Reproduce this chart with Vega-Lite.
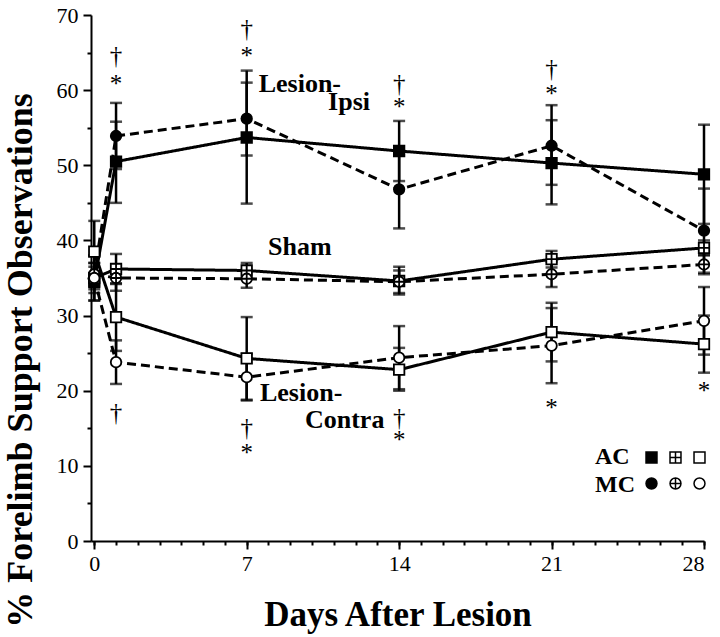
{
  "$schema": "https://vega.github.io/schema/vega-lite/v6.json",
  "width": 613,
  "height": 526,
  "autosize": "none",
  "padding": {"left": 91, "top": 15, "right": 16, "bottom": 96},
  "background": "white",
  "config": {
    "view": {"stroke": null},
    "font": "Liberation Serif",
    "axis": {"domainColor": "black", "tickColor": "black", "labelColor": "black", "titleColor": "black", "grid": false, "domainWidth": 2, "tickWidth": 2, "labelFont": "Liberation Serif", "titleFont": "Liberation Serif"}
  },
  "datasets": {
    "obs": [
      {"day": 0, "group": "AC", "series": "AC-Ipsi", "pct": 34.5, "lo": 32.0, "hi": 37.0},
      {"day": 1, "group": "AC", "series": "AC-Ipsi", "pct": 50.5, "lo": 45.0, "hi": 55.8},
      {"day": 7, "group": "AC", "series": "AC-Ipsi", "pct": 53.7, "lo": 44.9, "hi": 62.6},
      {"day": 14, "group": "AC", "series": "AC-Ipsi", "pct": 51.9, "lo": 47.9, "hi": 55.9},
      {"day": 21, "group": "AC", "series": "AC-Ipsi", "pct": 50.3, "lo": 44.8, "hi": 56.0},
      {"day": 28, "group": "AC", "series": "AC-Ipsi", "pct": 48.8, "lo": 42.2, "hi": 55.4},
      {"day": 0, "group": "AC", "series": "AC-Sham", "pct": 35.0, "lo": 33.5, "hi": 36.5},
      {"day": 1, "group": "AC", "series": "AC-Sham", "pct": 36.2, "lo": 34.2, "hi": 38.2},
      {"day": 7, "group": "AC", "series": "AC-Sham", "pct": 36.0, "lo": 35.0, "hi": 37.0},
      {"day": 14, "group": "AC", "series": "AC-Sham", "pct": 34.6, "lo": 32.8, "hi": 36.5},
      {"day": 21, "group": "AC", "series": "AC-Sham", "pct": 37.5, "lo": 36.4, "hi": 38.6},
      {"day": 28, "group": "AC", "series": "AC-Sham", "pct": 39.0, "lo": 38.0, "hi": 40.0},
      {"day": 0, "group": "AC", "series": "AC-Contra", "pct": 38.5, "lo": 34.4, "hi": 42.6},
      {"day": 1, "group": "AC", "series": "AC-Contra", "pct": 29.8, "lo": 25.3, "hi": 34.3},
      {"day": 7, "group": "AC", "series": "AC-Contra", "pct": 24.3, "lo": 18.8, "hi": 29.8},
      {"day": 14, "group": "AC", "series": "AC-Contra", "pct": 22.8, "lo": 20.0, "hi": 25.7},
      {"day": 21, "group": "AC", "series": "AC-Contra", "pct": 27.8, "lo": 23.9, "hi": 31.7},
      {"day": 28, "group": "AC", "series": "AC-Contra", "pct": 26.2, "lo": 22.4, "hi": 30.0},
      {"day": 0, "group": "MC", "series": "MC-Ipsi", "pct": 35.5, "lo": 33.0, "hi": 38.0},
      {"day": 1, "group": "MC", "series": "MC-Ipsi", "pct": 53.9, "lo": 49.5, "hi": 58.3},
      {"day": 7, "group": "MC", "series": "MC-Ipsi", "pct": 56.2, "lo": 51.3, "hi": 61.0},
      {"day": 14, "group": "MC", "series": "MC-Ipsi", "pct": 46.8, "lo": 41.6, "hi": 52.0},
      {"day": 21, "group": "MC", "series": "MC-Ipsi", "pct": 52.6, "lo": 47.4, "hi": 58.0},
      {"day": 28, "group": "MC", "series": "MC-Ipsi", "pct": 41.3, "lo": 35.7, "hi": 46.9},
      {"day": 0, "group": "MC", "series": "MC-Sham", "pct": 35.5, "lo": 34.0, "hi": 37.0},
      {"day": 1, "group": "MC", "series": "MC-Sham", "pct": 35.0, "lo": 33.3, "hi": 36.7},
      {"day": 7, "group": "MC", "series": "MC-Sham", "pct": 34.9, "lo": 33.7, "hi": 36.1},
      {"day": 14, "group": "MC", "series": "MC-Sham", "pct": 34.5, "lo": 33.0, "hi": 36.0},
      {"day": 21, "group": "MC", "series": "MC-Sham", "pct": 35.5, "lo": 33.8, "hi": 37.2},
      {"day": 28, "group": "MC", "series": "MC-Sham", "pct": 36.8, "lo": 35.5, "hi": 38.1},
      {"day": 0, "group": "MC", "series": "MC-Contra", "pct": 35.0, "lo": 32.0, "hi": 38.0},
      {"day": 1, "group": "MC", "series": "MC-Contra", "pct": 23.8, "lo": 20.9, "hi": 26.7},
      {"day": 7, "group": "MC", "series": "MC-Contra", "pct": 21.8, "lo": 18.7, "hi": 24.9},
      {"day": 14, "group": "MC", "series": "MC-Contra", "pct": 24.4, "lo": 20.2, "hi": 28.6},
      {"day": 21, "group": "MC", "series": "MC-Contra", "pct": 26.0, "lo": 21.0, "hi": 31.0},
      {"day": 28, "group": "MC", "series": "MC-Contra", "pct": 29.3, "lo": 24.8, "hi": 33.8}
    ],
    "signif": [
      {"day": 1, "pct": 64.6, "mark": "†"},
      {"day": 1, "pct": 60.8, "mark": "*"},
      {"day": 7, "pct": 68.2, "mark": "†"},
      {"day": 7, "pct": 64.6, "mark": "*"},
      {"day": 14, "pct": 60.8, "mark": "†"},
      {"day": 14, "pct": 57.7, "mark": "*"},
      {"day": 21, "pct": 62.8, "mark": "†"},
      {"day": 21, "pct": 59.5, "mark": "*"},
      {"day": 1, "pct": 17.0, "mark": "†"},
      {"day": 7, "pct": 15.0, "mark": "†"},
      {"day": 7, "pct": 11.7, "mark": "*"},
      {"day": 14, "pct": 16.4, "mark": "†"},
      {"day": 14, "pct": 13.5, "mark": "*"},
      {"day": 21, "pct": 17.7, "mark": "*"},
      {"day": 28, "pct": 19.9, "mark": "*"}
    ],
    "labels": [
      {"day": 9.44, "pct": 59.7, "label": "Lesion-"},
      {"day": 11.7, "pct": 57.3, "label": "Ipsi"},
      {"day": 9.44, "pct": 38.0, "label": "Sham"},
      {"day": 9.5, "pct": 18.6, "label": "Lesion-"},
      {"day": 11.5, "pct": 15.1, "label": "Contra"}
    ]
  },
  "layer": [
    {
      "data": {"name": "obs"},
      "mark": {"type": "rule", "color": "black", "strokeWidth": 2.5},
      "encoding": {
        "x": {"field": "day", "type": "quantitative", "scale": {"domain": [-0.15, 28], "nice": false, "zero": false},
              "axis": {"orient": "bottom", "values": [0,1,2,3,4,5,6,7,8,9,10,11,12,13,14,15,16,17,18,19,20,21,22,23,24,25,26,27,28], "labels": false, "domain": false, "tickSize": 4, "title": null}},
        "y": {"field": "lo", "type": "quantitative", "scale": {"domain": [0, 70], "nice": false},
              "axis": {"orient": "left", "values": [5,15,25,35,45,55,65], "labels": false, "domain": false, "tickSize": 4, "title": null}},
        "y2": {"field": "hi"},
        "detail": {"field": "series"}
      }
    },
    {
      "data": {"name": "obs"},
      "mark": {"type": "tick", "orient": "horizontal", "color": "black", "size": 12, "thickness": 2.5},
      "encoding": {
        "x": {"field": "day", "type": "quantitative", "axis": null},
        "y": {"field": "lo", "type": "quantitative", "axis": null}
      }
    },
    {
      "data": {"name": "obs"},
      "mark": {"type": "tick", "orient": "horizontal", "color": "black", "size": 12, "thickness": 2.5},
      "encoding": {
        "x": {"field": "day", "type": "quantitative", "axis": null},
        "y": {"field": "hi", "type": "quantitative", "axis": null}
      }
    },
    {
      "data": {"name": "obs"},
      "mark": {"type": "line", "color": "black", "strokeWidth": 3},
      "encoding": {
        "x": {"field": "day", "type": "quantitative",
              "axis": {"orient": "bottom", "values": [0, 7, 14, 21, 28], "tickSize": 8, "labelFontSize": 22, "labelPadding": 4, "title": "Days After Lesion", "titleFontSize": 35, "titleFontWeight": "bold", "titleBaseline": "alphabetic", "titleY": 84}},
        "y": {"field": "pct", "type": "quantitative",
              "axis": {"orient": "left", "values": [0, 10, 20, 30, 40, 50, 60, 70], "tickSize": 8, "labelFontSize": 22, "labelPadding": 5, "title": "% Forelimb Support Observations", "titleFontSize": 36, "titleFontWeight": "bold", "titleBaseline": "alphabetic", "titleX": -60, "titleY": 345}},
        "detail": {"field": "series"},
        "strokeDash": {"field": "group", "type": "nominal", "scale": {"domain": ["AC", "MC"], "range": [[1, 0], [9, 5]]}, "legend": null}
      }
    },
    {
      "data": {"name": "obs"},
      "mark": {"type": "point", "filled": true, "stroke": "black", "strokeWidth": 1.8, "opacity": 1, "size": 110},
      "encoding": {
        "x": {"field": "day", "type": "quantitative", "axis": null},
        "y": {"field": "pct", "type": "quantitative", "axis": null},
        "shape": {"field": "series", "type": "nominal",
                  "scale": {"domain": ["AC-Ipsi", "AC-Sham", "AC-Contra", "MC-Ipsi", "MC-Sham", "MC-Contra"],
                            "range": ["square", "M-1,-1H1V1H-1Z M0,-1V1 M-1,0H1", "square", "circle", "M1,0A1,1,0,1,1,-1,0A1,1,0,1,1,1,0Z M0,-1V1 M-1,0H1", "circle"]},
                  "legend": {"title": ["AC", "MC"], "titleOrient": "left", "titleFontSize": 24, "titleFontWeight": "bold", "titleFont": "Liberation Serif", "titleLineHeight": 28, "titleColor": "black",
                             "orient": "none", "legendX": 504, "legendY": 436, "direction": "horizontal", "columns": 3, "labelExpr": "' '", "labelOffset": 0, "labelFontSize": 1, "columnPadding": 7, "rowPadding": 9, "symbolSize": 120, "titlePadding": 10,
                             "encode": {"symbols": {"update": {"stroke": {"value": "black"}, "strokeWidth": {"value": 1.8}, "opacity": {"value": 1}}}}}},
        "fill": {"field": "series", "type": "nominal",
                 "scale": {"domain": ["AC-Ipsi", "AC-Sham", "AC-Contra", "MC-Ipsi", "MC-Sham", "MC-Contra"],
                           "range": ["black", "white", "white", "black", "white", "white"]}}
      }
    },
    {
      "data": {"name": "signif"},
      "mark": {"type": "text", "font": "Liberation Serif", "fontSize": 25, "baseline": "middle", "align": "center", "color": "black"},
      "encoding": {
        "x": {"field": "day", "type": "quantitative", "axis": null},
        "y": {"field": "pct", "type": "quantitative", "axis": null},
        "text": {"field": "mark"}
      }
    },
    {
      "data": {"name": "labels"},
      "mark": {"type": "text", "font": "Liberation Serif", "fontSize": 26, "fontWeight": "bold", "baseline": "alphabetic", "align": "center", "color": "black"},
      "encoding": {
        "x": {"field": "day", "type": "quantitative", "axis": null},
        "y": {"field": "pct", "type": "quantitative", "axis": null},
        "text": {"field": "label"}
      }
    }
  ],
  "resolve": {"axis": {"x": "independent", "y": "independent"}}
}
